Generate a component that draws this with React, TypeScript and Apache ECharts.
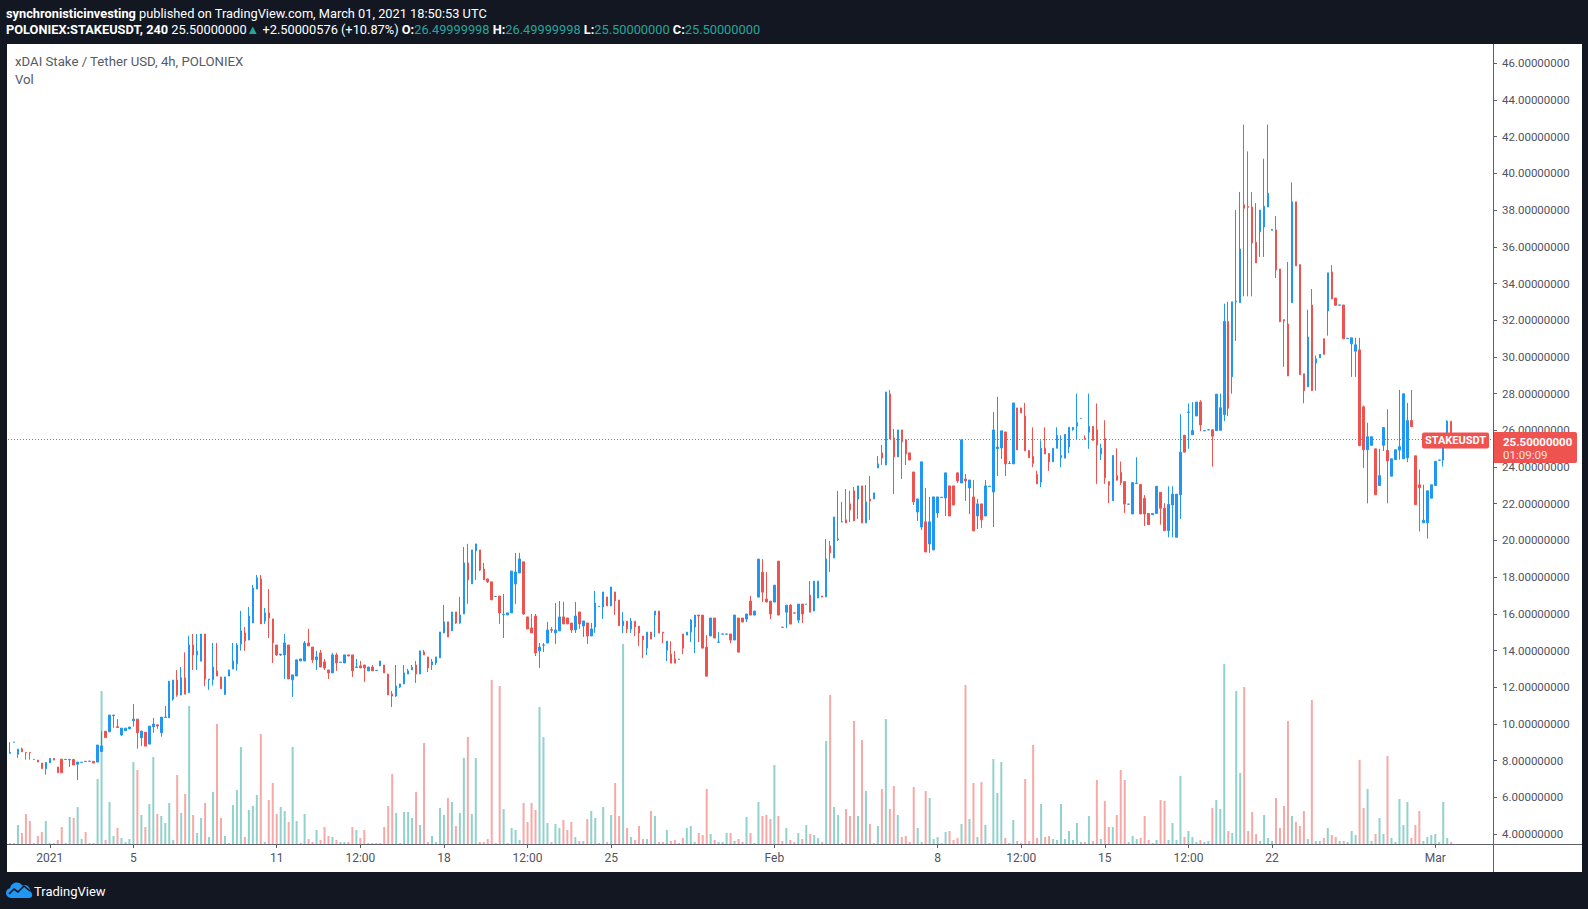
import React, { useEffect, useRef } from "react";
import * as echarts from "echarts";

// [open, high, low, close] per 4h bar
const ohlc: number[][] = [
  [8.40,9.00,8.38,8.45],[9.00,9.00,9.00,9.01],[8.35,8.63,8.15,8.63],[8.63,8.70,8.48,8.48],[8.45,8.45,8.05,8.43],
  [8.45,8.45,8.05,8.43],[8.06,8.06,8.06,8.07],[8.03,8.03,7.92,7.92],[7.87,7.87,7.56,7.56],[7.56,7.90,7.23,7.90],
  [7.88,8.12,7.88,8.12],[8.12,8.12,8.03,8.03],[7.65,7.65,7.34,7.34],[8.08,8.08,7.34,7.34],[8.06,8.06,8.06,8.07],
  [8.04,8.07,7.65,8.07],[8.06,8.06,7.76,7.76],[7.80,7.92,6.94,7.92],[7.90,7.90,7.90,7.91],[7.96,7.96,7.96,7.95],
  [7.96,7.96,7.96,7.97],[7.96,7.96,7.87,7.87],[7.92,8.85,7.92,8.85],[8.50,9.60,8.50,8.80],[9.60,9.60,9.25,9.25],
  [9.57,10.48,9.57,10.48],[10.45,10.48,9.79,10.48],[9.85,10.26,9.79,9.80],[9.40,9.77,9.34,9.77],[9.63,9.77,9.63,9.77],
  [9.73,9.83,9.73,9.83],[10.17,11.08,9.85,10.26],[10.26,10.26,8.65,9.52],[9.25,9.61,8.79,9.61],[9.55,9.55,8.79,8.79],
  [8.90,9.88,8.90,9.88],[9.85,10.32,9.52,9.99],[9.95,9.95,9.73,9.88],[9.52,10.37,9.30,10.37],[10.35,10.97,10.35,10.37],
  [10.33,12.33,10.33,12.33],[11.35,12.39,11.26,12.39],[12.39,12.93,11.48,11.57],[11.57,13.10,11.57,12.51],[12.51,13.90,11.62,11.62],
  [11.70,14.80,11.70,14.30],[14.30,14.90,12.93,13.75],[13.75,14.90,12.93,13.97],[13.42,14.90,13.42,14.90],[14.90,14.90,12.06,12.44],
  [12.40,12.44,11.86,12.44],[12.41,14.41,12.09,13.10],[12.89,14.41,12.61,12.61],[12.56,12.56,11.92,11.92],[11.60,12.56,11.60,12.56],
  [12.61,12.94,12.61,12.94],[12.99,14.41,12.99,13.43],[13.27,14.41,12.90,14.30],[14.36,16.16,14.00,15.07],[14.96,15.28,13.98,14.52],
  [14.57,16.37,14.57,15.88],[15.50,17.57,15.50,17.41],[17.35,18.12,17.35,17.95],[17.90,18.12,15.45,15.45],[15.61,16.32,15.45,16.05],
  [16.05,17.35,14.68,15.77],[15.72,15.72,13.32,14.41],[14.30,14.30,13.70,13.76],[13.76,13.80,13.70,13.80],[13.76,14.90,12.45,14.41],
  [14.30,14.30,12.45,12.45],[12.40,12.67,11.47,12.67],[12.61,13.49,12.61,13.49],[13.43,13.54,13.43,13.54],[13.43,14.52,13.43,14.41],
  [14.41,15.18,14.25,14.25],[14.19,14.19,13.32,13.49],[13.49,13.98,12.94,13.65],[13.87,14.03,13.10,13.10],[13.38,13.54,12.94,13.05],
  [12.94,12.94,12.45,12.78],[12.78,13.87,12.78,13.76],[13.76,13.87,12.89,13.32],[13.35,13.36,13.35,13.36],[13.32,13.76,13.32,13.76],
  [13.76,13.76,13.70,13.70],[13.76,13.76,12.56,12.89],[13.08,13.54,13.08,13.10],[13.16,13.43,13.05,13.05],[13.21,13.21,12.29,13.05],
  [12.89,13.10,12.89,13.10],[13.10,13.21,12.89,12.89],[12.91,12.92,12.91,12.92],[13.16,13.43,13.16,13.43],[13.21,13.21,12.78,12.78],
  [12.72,12.72,11.58,11.58],[11.63,11.80,10.92,11.52],[11.52,13.21,11.47,12.07],[12.01,12.18,11.96,12.18],[12.18,13.21,12.18,12.78],
  [12.72,13.00,12.72,12.89],[12.94,13.21,12.94,13.08],[13.21,13.43,12.23,12.72],[12.72,13.98,12.72,13.98],[13.92,14.03,13.76,13.76],
  [13.65,13.65,12.83,13.05],[13.21,13.54,12.94,13.38],[13.32,13.65,13.21,13.65],[13.60,15.01,13.60,15.01],[14.96,16.48,14.96,15.56],
  [15.56,15.56,14.74,14.74],[15.07,16.10,15.07,16.10],[16.10,16.10,15.45,15.50],[15.50,16.92,15.45,15.94],[15.99,19.64,15.99,18.77],
  [18.77,19.81,16.54,17.85],[17.63,19.48,17.63,19.48],[19.43,19.81,17.85,19.81],[19.48,19.48,18.33,18.39],[18.44,18.77,17.85,17.85],
  [17.90,17.90,17.68,17.74],[17.74,17.74,16.76,16.76],[16.94,16.95,16.94,16.95],[16.97,16.97,15.45,16.05],[15.95,17.08,14.68,15.97],
  [15.94,16.05,15.94,16.05],[16.05,18.33,16.05,18.33],[17.63,19.32,16.54,18.28],[18.23,19.32,18.23,18.99],[18.83,18.83,15.94,15.99],
  [15.83,15.83,15.17,15.17],[15.23,15.99,14.96,14.96],[15.88,15.99,13.70,13.87],[13.98,14.41,13.05,14.19],[14.29,14.41,13.92,14.30],
  [14.41,15.56,14.41,15.12],[15.14,15.28,14.96,15.10],[14.96,16.59,14.36,15.12],[15.07,16.70,15.07,15.83],[15.83,16.65,15.45,15.45],
  [15.77,15.77,15.45,15.45],[15.50,15.50,14.96,15.12],[15.12,16.65,14.96,15.88],[16.10,16.10,15.18,15.45],[15.34,15.61,14.74,15.61],
  [15.50,15.50,14.36,14.79],[14.79,15.50,14.79,15.17],[15.28,17.25,14.96,16.59],[16.40,16.41,16.40,16.41],[16.37,17.19,15.72,17.19],
  [16.92,16.92,16.43,16.43],[16.43,17.46,16.43,17.46],[17.19,17.19,15.94,16.70],[16.75,16.75,15.35,15.35],[15.35,16.09,14.95,15.60],
  [15.60,15.60,14.95,15.17],[15.17,15.77,14.95,15.60],[15.60,15.60,14.79,15.28],[15.33,15.33,14.24,14.95],[14.79,14.79,13.59,14.57],
  [14.13,15.00,13.75,15.00],[15.00,15.00,14.62,14.62],[15.93,16.15,14.73,16.15],[16.15,16.15,14.95,14.95],[15.00,15.00,14.40,14.95],
  [14.02,14.51,13.42,14.51],[13.80,14.51,13.31,13.31],[13.53,13.97,13.31,13.31],[13.52,13.53,13.52,13.53],[14.90,14.90,13.80,14.13],
  [14.84,15.00,14.84,15.00],[15.00,15.71,14.46,15.66],[15.28,15.93,13.86,15.93],[15.93,15.93,14.46,15.88],[15.93,15.93,14.13,14.13],
  [14.18,14.84,12.60,12.60],[14.79,15.77,14.79,15.77],[15.77,15.77,14.68,14.68],[14.45,15.00,14.45,14.46],[14.89,14.90,14.89,14.90],
  [14.89,14.90,14.89,14.90],[14.90,14.90,14.40,14.57],[14.57,15.93,14.57,15.93],[15.77,15.77,13.91,13.91],[15.77,15.77,15.55,15.55],
  [15.71,15.99,15.55,15.99],[16.69,16.97,15.93,15.93],[15.93,16.15,15.93,16.15],[16.91,18.98,16.91,18.98],[18.27,18.98,16.64,17.18],
  [16.80,18.27,16.64,16.64],[16.69,16.69,15.71,15.99],[16.64,17.56,16.64,17.56],[18.87,18.87,15.93,15.93],[15.27,15.27,15.26,15.26],
  [16.09,16.47,15.22,16.47],[16.47,16.53,15.44,15.44],[16.05,16.05,16.04,16.04],[15.66,16.53,15.50,16.53],[16.53,16.53,15.50,15.99],
  [16.52,16.53,16.52,16.53],[17.02,17.78,16.09,16.09],[16.15,17.78,16.15,17.78],[16.86,17.78,16.86,17.78],[16.97,16.97,16.91,16.91],
  [16.92,20.08,16.92,18.99],[19.70,19.97,18.28,19.32],[19.04,21.28,19.04,21.28],[20.03,22.70,19.97,20.08],[21.00,22.10,21.00,21.01],
  [21.12,22.80,20.95,20.95],[21.99,22.70,21.00,21.66],[22.70,22.91,21.06,21.06],[22.26,22.97,21.17,22.97],[22.97,22.97,20.95,20.95],
  [20.95,23.02,20.95,22.10],[22.26,23.51,21.12,22.15],[22.26,22.59,22.26,22.59],[23.95,24.60,23.95,24.17],[24.77,25.20,24.11,24.49],
  [24.11,28.09,24.11,28.09],[27.98,28.20,25.53,25.53],[25.58,26.07,22.53,24.55],[24.55,26.02,24.55,26.02],[26.02,26.02,23.35,25.37],
  [25.48,25.48,24.11,24.71],[24.77,24.77,24.38,24.38],[23.73,23.73,21.93,22.10],[21.55,22.26,21.06,22.26],[20.73,24.28,20.57,24.28],
  [21.01,22.86,19.37,19.37],[19.81,22.37,19.32,21.01],[19.48,22.37,19.48,22.37],[21.50,22.37,21.23,22.37],[22.34,22.35,22.34,22.35],
  [22.31,23.68,21.33,23.68],[22.97,22.97,21.33,21.33],[22.97,22.97,21.93,21.93],[23.68,23.68,23.13,23.24],[23.13,25.48,23.13,25.48],
  [23.35,23.62,22.15,23.24],[22.86,23.29,21.44,23.29],[22.37,23.29,20.52,20.52],[21.33,22.26,20.62,21.99],[21.99,21.99,20.68,21.12],
  [21.33,23.29,21.33,22.97],[22.94,22.95,22.94,22.95],[22.64,27.00,20.73,26.02],[25.00,27.82,23.51,25.09],[25.04,25.97,24.44,25.97],
  [25.91,25.91,23.51,24.17],[24.19,24.33,24.19,24.20],[24.17,27.49,24.17,27.49],[27.22,27.22,24.93,24.93],[27.22,27.22,26.95,26.95],
  [26.78,27.49,24.88,24.88],[24.90,24.90,24.50,24.50],[24.58,26.16,23.99,24.20],[23.59,23.79,23.08,23.08],[23.18,25.45,22.90,25.02],
  [25.02,26.16,24.71,24.71],[24.74,24.74,23.79,24.28],[24.28,25.02,24.28,25.02],[25.02,26.16,25.02,25.73],[24.50,25.73,23.99,24.63],
  [24.48,25.78,24.48,25.78],[25.09,26.16,24.76,26.16],[26.03,26.16,25.98,26.16],[26.24,28.00,25.50,26.42],[26.64,26.65,26.64,26.65],
  [25.55,25.73,25.50,25.50],[25.90,28.00,24.99,26.21],[26.21,26.21,25.45,25.45],[26.03,27.46,23.08,25.19],[24.71,25.27,24.38,25.02],
  [25.55,26.55,23.08,23.41],[23.20,23.20,22.03,23.00],[22.16,24.63,22.16,24.63],[23.53,25.02,23.28,23.28],[23.71,24.30,23.02,23.15],
  [23.20,23.20,21.50,21.98],[21.97,21.98,21.97,21.98],[21.44,23.15,21.44,23.15],[23.10,24.53,23.10,23.13],[23.05,23.05,21.44,21.44],
  [22.29,22.47,20.78,21.44],[21.47,21.47,20.86,20.86],[21.40,21.47,21.40,21.47],[21.47,22.95,21.47,22.95],[22.62,22.62,20.86,21.75],
  [21.75,22.03,20.53,20.53],[20.53,22.95,20.17,21.96],[21.93,22.95,20.17,22.52],[20.17,22.52,20.17,22.52],[22.49,26.88,21.17,24.81],
  [25.73,25.73,24.81,24.81],[26.98,27.46,24.99,27.00],[25.76,27.54,25.76,25.99],[26.78,27.54,26.78,27.54],[27.54,27.64,25.96,26.29],
  [25.97,25.98,25.97,25.98],[26.02,26.03,26.02,26.03],[26.03,26.03,24.02,25.68],[25.98,27.97,25.98,27.97],[26.00,28.00,26.00,27.23],
  [26.85,32.90,26.50,31.93],[31.93,33.00,26.78,27.20],[28.92,33.00,28.00,33.00],[33.00,38.00,30.87,33.05],[32.95,38.99,32.95,35.88],
  [38.29,42.66,33.30,38.10],[38.20,41.20,33.30,38.15],[38.17,38.99,33.30,36.21],[36.25,38.38,35.12,35.12],[36.82,38.00,35.45,38.00],
  [37.08,40.80,35.45,38.21],[38.17,42.66,38.17,38.92],[36.90,36.95,36.90,36.95],[36.92,37.67,34.30,34.74],[34.79,34.79,31.91,31.91],
  [32.03,32.03,29.46,31.96],[31.79,35.17,28.96,28.96],[32.95,39.51,32.95,38.45],[38.45,38.45,34.96,34.96],[35.03,35.03,29.03,29.03],
  [29.08,29.08,27.47,28.16],[28.37,32.57,28.37,31.08],[32.83,33.70,28.16,28.16],[29.67,30.07,28.16,29.90],[29.95,30.14,29.95,30.14],
  [30.99,30.99,30.14,30.14],[32.50,34.58,31.16,34.58],[34.63,35.00,33.16,33.16],[33.21,33.21,32.81,32.81],[32.82,32.83,32.82,32.83],
  [32.83,32.83,30.99,30.99],[31.00,31.01,31.00,31.01],[30.71,31.04,28.91,31.04],[30.31,31.04,28.91,30.66],[30.38,31.04,25.16,25.16],
  [27.28,27.35,23.95,24.94],[24.94,26.41,22.02,25.65],[25.18,25.65,25.18,25.65],[24.99,24.99,22.49,22.49],[22.99,24.99,22.99,23.53],
  [25.18,26.15,24.87,26.15],[24.90,27.15,22.02,24.33],[23.50,24.45,23.50,24.45],[24.40,24.94,24.40,24.94],[24.92,28.20,24.40,25.11],
  [24.45,28.00,24.45,27.99],[24.50,27.49,24.26,26.53],[26.53,28.20,26.20,26.20],[24.61,24.61,21.95,21.95],[23.03,23.86,20.48,22.87],
  [20.96,23.03,20.96,21.10],[20.96,22.70,20.10,22.70],[22.30,23.03,22.30,23.03],[22.99,24.31,22.99,24.31],[24.37,24.38,24.37,24.38],
  [24.38,25.47,24.02,25.38],[25.38,26.55,25.38,26.50],[26.50,26.50,25.50,25.50],
];

// volume per bar (arbitrary units)
const volume: number[] = [
  1,1,19,11,30,23,1,8,12,23, 1,1,4,17,1,27,26,37,5,12, 1,1,65,153,4,42,8,16,6,2, 5,82,74,29,17,40,87,30,28,21,
  41,4,69,31,50,138,29,11,26,41, 7,
  52,120,26,8,1,39,54,97,7,34, 38,49,110,2,44,61,30,37,33,22, 97,23,1,30,5,2,14,4,17,8, 7,4,2,2,2,17,14,6,14,1,
  1,1,1,17,38,70,31,1,32,32, 26,
  52,19,101,2,8,2,36,29,46,42, 18,31,86,107,30,86,2,2,5,164, 1,158,35,1,16,14,4,41,22,41, 34,137,107,21,2,20,16,24,14,22,
  7,3,3,25,33,26,1,37,2,29, 61,
  28,200,16,7,4,18,5,5,33,28, 2,2,14,3,4,1,6,16,18,2, 11,9,55,10,4,2,2,11,11,3, 5,2,27,11,1,42,28,29,25,79,
  28,3,16,4,2,11,5,19,10,9, 6,
  2,103,149,37,29,1,35,28,123,28, 104,53,20,1,18,55,125,35,58,29, 7,8,2,57,16,2,53,46,5,7, 1,12,13,4,6,20,159,25,61,7,
  62,19,1,85,51,82,6,1,24,3, 1,65,3,
  99,6,40,7,8,5,4,40,5,13, 4,21,2,2,28,3,64,5,43,17, 17,29,74,64,2,8,5,6,28,4, 1,4,44,43,4,21,4,68,7,13,
  7,2,4,2,3,36,44,35,180,13, 11,
  153,71,157,13,32,10,3,29,6,3, 46,16,38,123,28,22,18,33,5,144, 3,3,6,16,9,7,3,3,2,13, 9,84,36,55,3,10,26,10,88,6,
  2,45,19,42,6,19,33,3,7,9, 10,2,42,6,2,
];

const xTickBars = [10, 31, 67, 88, 109, 130, 151, 192, 233, 254, 275, 296, 317, 358];
const xTickLabels = ["2021", "5", "11", "12:00", "18", "12:00", "25", "Feb", "8", "12:00", "15", "12:00", "22", "Mar"];
const priceTicks = [4, 6, 8, 10, 12, 14, 16, 18, 20, 22, 24, 26, 28, 30, 32, 34, 36, 38, 40, 42, 44, 46];
const emptyBarsRight = 10;

const UP = "#2196f3";
const DOWN = "#ef5350";
const VOL_UP = "rgba(38,166,154,0.5)";
const VOL_DOWN = "rgba(239,83,80,0.5)";
const AXIS_TEXT = "#50535e";
const AXIS_LINE = "#5d606b";
const TEAL = "#26a69a";
const FONT = "Roboto";

const LOGO_D =
  "M6 16 C2.5 16 0 13.8 0 11 C0 8.5 1.8 6.6 4.2 6.2 C4.8 2.8 7.6 0.5 11 0.5 C13.4 0.5 15.5 1.7 16.7 3.5 C17.4 3.2 18.2 3 19 3 C22.3 3 25 5.7 25 9 L25 9.6 C26.2 10.4 27 11.7 27 13 C27 14.7 25.7 16 24 16 Z";

let logoRegistered = false;

export default function App() {
  const ref = useRef<HTMLDivElement>(null);

  useEffect(() => {
    if (!ref.current) return;
    if (!logoRegistered) {
      echarts.graphic.registerShape("tvlogo", echarts.graphic.extendPath(LOGO_D, {}));
      logoRegistered = true;
    }
    const chart = echarts.init(ref.current, undefined, { renderer: "svg" });

    const n = ohlc.length;
    const categories = Array.from({ length: n + emptyBarsRight }, (_, i) => String(i));
    const candleData = ohlc.map(([o, h, l, c]) => [o, c, Math.min(l, o, c), Math.max(h, o, c)]);
    const volData = volume.map((v, i) => ({
      value: v,
      itemStyle: { color: ohlc[i][3] >= ohlc[i][0] ? VOL_UP : VOL_DOWN },
    }));
    const tickSet = new Set(xTickBars);
    const labelOf: Record<number, string> = {};
    xTickBars.forEach((b, i) => (labelOf[b] = xTickLabels[i]));
    const last = ohlc[n - 1];
    const lastClose = last[3];

    const gridLeft = 8;
    const gridTop = 44;
    const gridWidth = 1485;
    const gridHeight = 800;

    chart.setOption({
      animation: false,
      backgroundColor: "transparent",
      grid: { left: gridLeft, top: gridTop, width: gridWidth, height: gridHeight, outerBoundsMode: "none" },
      xAxis: {
        type: "category",
        data: categories,
        boundaryGap: true,
        axisLine: { show: false },
        axisTick: {
          show: true,
          alignWithLabel: true,
          interval: (i: number) => tickSet.has(i),
          length: 4,
          lineStyle: { color: AXIS_LINE },
        },
        axisLabel: {
          interval: (i: number) => tickSet.has(i),
          formatter: (_v: string, i: number) => labelOf[i] || "",
          color: AXIS_TEXT,
          fontSize: 12,
          fontFamily: FONT,
          margin: 8,
        },
        splitLine: { show: false },
      },
      yAxis: [
        {
          type: "value",
          position: "right",
          min: 3.455,
          max: 47.052,
          axisLine: { show: false },
          splitLine: { show: false },
          axisTick: { show: true, customValues: priceTicks, length: 4, lineStyle: { color: AXIS_LINE } },
          axisLabel: {
            customValues: priceTicks,
            formatter: (v: number) => v.toFixed(8),
            color: AXIS_TEXT,
            fontSize: 11.5,
            lineHeight: 11,
            fontFamily: FONT,
            margin: 9,
          },
        },
        { type: "value", min: 0, max: 800, show: false },
      ],
      series: [
        {
          type: "bar",
          yAxisIndex: 1,
          data: volData,
          barWidth: 2,
          silent: true,
          z: 1,
        },
        {
          type: "candlestick",
          yAxisIndex: 0,
          data: candleData,
          barWidth: 2,
          z: 3,
          itemStyle: { color: UP, color0: DOWN, borderColor: UP, borderColor0: DOWN, borderWidth: 1 },
          markLine: {
            silent: true,
            symbol: ["none", "none"],
            label: { show: false },
            lineStyle: { color: DOWN, type: [1, 2], width: 1 },
            data: [{ yAxis: lastClose }],
          },
        },
      ],
    });

    const py = chart.convertToPixel({ yAxisIndex: 0 }, lastClose) as number;
    const axisX = gridLeft + gridWidth;
    const axisY = gridTop + gridHeight;
    const white = "#ffffff";
    const HF = 12.8;

    chart.setOption({
      graphic: [
        {
          type: "text",
          x: 6,
          y: 13,
          z: 100,
          style: {
            text: "{b|synchronisticinvesting}{n| published on TradingView.com, March 01, 2021 18:50:53 UTC}",
            verticalAlign: "middle",
            rich: {
              b: { fill: white, fontWeight: "bold", fontSize: HF, fontFamily: FONT },
              n: { fill: white, fontSize: HF, fontFamily: FONT },
            },
          },
        },
        {
          type: "text",
          x: 6,
          y: 29,
          z: 100,
          style: {
            text:
              "{b|POLONIEX:STAKEUSDT, 240}{n| 25.50000000}{t|▲}{n| +2.50000576 (+10.87%) }{b|O:}{t|26.49999998}{b| H:}{t|26.49999998}{b| L:}{t|25.50000000}{b| C:}{t|25.50000000}",
            verticalAlign: "middle",
            rich: {
              b: { fill: white, fontWeight: "bold", fontSize: HF, fontFamily: FONT },
              n: { fill: white, fontSize: HF, fontFamily: FONT },
              t: { fill: TEAL, fontSize: HF, fontFamily: FONT },
            },
          },
        },
        {
          type: "text",
          x: 15,
          y: 61,
          z: 100,
          style: {
            text: "xDAI Stake / Tether USD, 4h, POLONIEX",
            fill: "#555a66",
            fontSize: 13.2,
            fontFamily: FONT,
            verticalAlign: "middle",
          },
        },
        {
          type: "text",
          x: 15,
          y: 79,
          z: 100,
          style: { text: "Vol", fill: "#555a66", fontSize: 13.2, fontFamily: FONT, verticalAlign: "middle" },
        },
        {
          type: "line",
          z: 90,
          shape: { x1: axisX + 0.5, y1: gridTop, x2: axisX + 0.5, y2: 872 },
          style: { stroke: AXIS_LINE, lineWidth: 1 },
        },
        {
          type: "line",
          z: 90,
          shape: { x1: 7, y1: axisY + 0.5, x2: 1582, y2: axisY + 0.5 },
          style: { stroke: AXIS_LINE, lineWidth: 1 },
        },
        {
          type: "rect",
          z: 100,
          shape: { x: 1422, y: py - 7, width: 67, height: 16, r: 2 },
          style: { fill: DOWN },
        },
        {
          type: "text",
          z: 101,
          x: 1455.5,
          y: py + 1,
          style: {
            text: "STAKEUSDT",
            fill: white,
            fontSize: 11,
            lineHeight: 11,
            fontWeight: "bold",
            fontFamily: FONT,
            align: "center",
            verticalAlign: "middle",
          },
        },
        {
          type: "rect",
          z: 100,
          shape: { x: axisX + 1, y: py - 7.5, width: 83, height: 31, r: [0, 2, 2, 0] },
          style: { fill: DOWN },
        },
        {
          type: "text",
          z: 101,
          x: 1503,
          y: py + 2.5,
          style: {
            text: lastClose.toFixed(8),
            fill: white,
            fontSize: 11.5,
            lineHeight: 11,
            fontWeight: "bold",
            fontFamily: FONT,
            verticalAlign: "middle",
          },
        },
        {
          type: "text",
          z: 101,
          x: 1503,
          y: py + 15.5,
          style: {
            text: "01:09:09",
            fill: "rgba(255,255,255,0.85)",
            fontSize: 11.5,
            lineHeight: 11,
            fontFamily: FONT,
            verticalAlign: "middle",
          },
        },
        {
          type: "tvlogo",
          z: 100,
          x: 6,
          y: 882,
          scaleX: 0.97,
          scaleY: 1,
          style: { fill: UP },
        },
        {
          type: "polyline",
          z: 101,
          shape: { points: [[9, 894], [14, 889], [18, 892], [24, 886], [30, 891]] },
          style: { stroke: "#131722", lineWidth: 1.6, fill: null },
        },
        {
          type: "text",
          z: 100,
          x: 34,
          y: 891,
          style: { text: "TradingView", fill: white, fontSize: 13, fontFamily: FONT, verticalAlign: "middle" },
        },
      ],
    });

    return () => chart.dispose();
  }, []);

  return (
    <div
      style={{
        position: "fixed",
        left: 0,
        top: 0,
        width: 1588,
        height: 909,
        background: "#131722",
        overflow: "hidden",
      }}
    >
      <div
        style={{
          position: "absolute",
          left: 7,
          top: 44,
          width: 1575,
          height: 828,
          background: "#ffffff",
        }}
      />
      <div ref={ref} style={{ position: "absolute", left: 0, top: 0, width: 1588, height: 909 }} />
    </div>
  );
}
